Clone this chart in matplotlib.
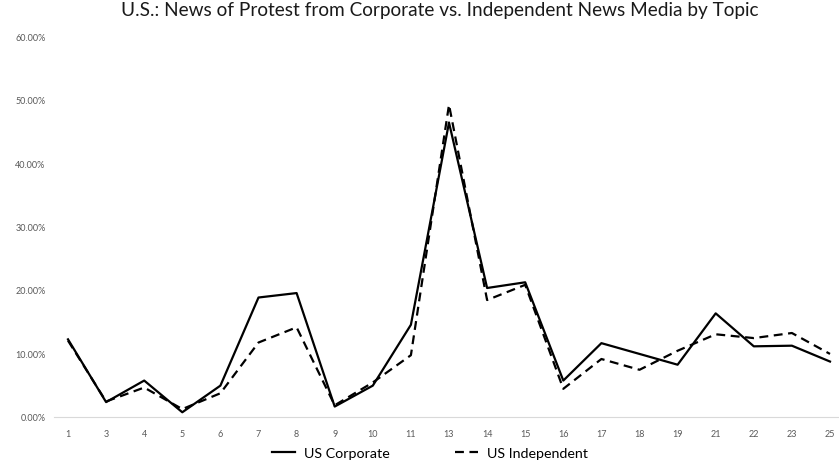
import matplotlib.pyplot as plt
from matplotlib.ticker import PercentFormatter

# Share of protest news per topic, corporate vs independent outlets
topics = ["1", "3", "4", "5", "6", "7", "8", "9", "10", "11", "13",
          "14", "15", "16", "17", "18", "19", "21", "22", "23", "25"]
us_corporate = [12.2, 2.3, 5.7, 0.7, 4.9, 18.8, 19.5, 1.6, 4.9, 14.5, 46.4,
                20.3, 21.2, 5.7, 11.6, 9.9, 8.2, 16.3, 11.1, 11.2, 8.7]
us_independent = [12.0, 2.4, 4.6, 1.2, 3.7, 11.7, 14.1, 1.8, 5.4, 9.7, 49.2,
                  18.4, 20.8, 4.4, 9.1, 7.4, 10.4, 13.0, 12.4, 13.2, 9.9]

plt.rcParams['font.family'] = ['Lato', 'DejaVu Sans']

fig = plt.figure(figsize=(8.39, 4.64), dpi=100)
ax = fig.add_axes([54 / 839, 1 - 417.7 / 464, 785 / 839, (417.7 - 37.3) / 464])

x = range(len(topics))
corp = [v / 100 for v in us_corporate]
indep = [v / 100 for v in us_independent]
ax.plot(x, corp, color='black', linewidth=1.6, label='US Corporate')
ax.plot(x, indep, color='black', linewidth=1.6, linestyle=(0, (4, 2.5)),
        label='US Independent')

ax.set_xlim(-14 / 38.1, 20 + 9 / 38.1)
ax.set_ylim(0, 0.6)
ax.set_yticks([0, 0.1, 0.2, 0.3, 0.4, 0.5, 0.6])
ax.yaxis.set_major_formatter(PercentFormatter(1.0, decimals=2))
ax.set_xticks(list(x))
ax.set_xticklabels(topics)

for side in ['top', 'right', 'left']:
    ax.spines[side].set_visible(False)
ax.spines['bottom'].set_color('#d9d9d9')
ax.tick_params(axis='both', length=0, labelsize=6.5, colors='#595959')
ax.tick_params(axis='x', pad=9)
ax.tick_params(axis='y', pad=6)

fig.text(440 / 839, 0.995, "U.S.: News of Protest from Corporate vs. Independent News Media by Topic",
         ha='center', va='top', fontsize=13.7, color='#1a1a1a')

fig.legend(loc='lower center', bbox_to_anchor=(430 / 839, -0.02), ncol=2,
           frameon=False, fontsize=10.3, handlelength=1.6, handletextpad=0.6,
           columnspacing=4.6)

fig.savefig("out.png", dpi=100)
